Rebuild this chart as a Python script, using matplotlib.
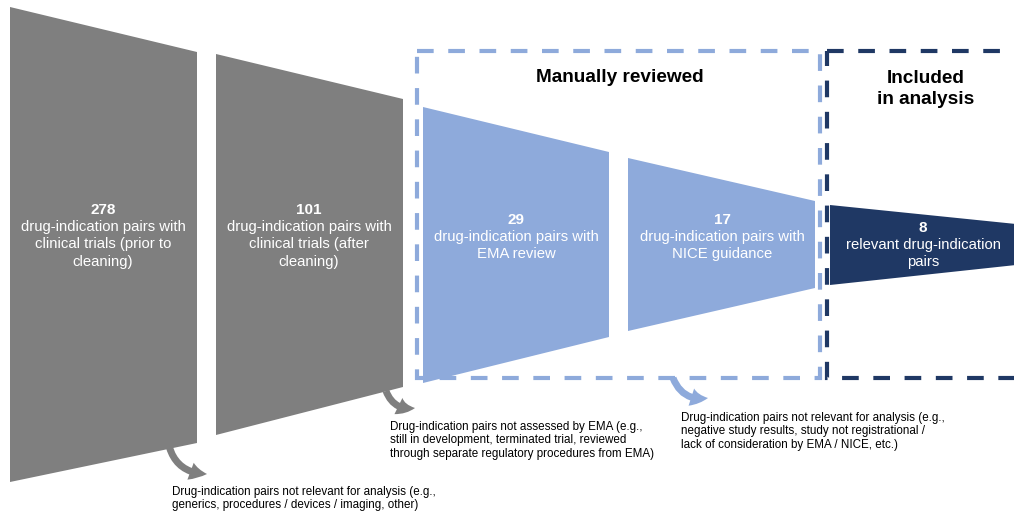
import matplotlib
matplotlib.use("Agg")
import matplotlib.pyplot as plt
from matplotlib.patches import Polygon, Rectangle, FancyArrowPatch

plt.rcParams['font.family'] = ['Liberation Sans', 'DejaVu Sans']

# stage counts and descriptions
counts = [278, 101, 29, 17, 8]
descriptions = [
    "drug-indication pairs with\nclinical trials (prior to\ncleaning)",
    "drug-indication pairs with\nclinical trials (after\ncleaning)",
    "drug-indication pairs with\nEMA review",
    "drug-indication pairs with\nNICE guidance",
    "relevant drug-indication\npairs",
]
exclusion_notes = [
    "Drug-indication pairs not relevant for analysis (e.g.,\n"
    "generics, procedures / devices / imaging, other)",
    "Drug-indication pairs not assessed by EMA (e.g.,\n"
    "still in development, terminated trial, reviewed\n"
    "through separate regulatory procedures from EMA)",
    "Drug-indication pairs not relevant for analysis (e.g.,\n"
    "negative study results, study not registrational /\n"
    "lack of consideration by EMA / NICE, etc.)",
]
group_titles = ["Manually reviewed", "Included\nin analysis"]

GRAY = "#7f7f7f"
LIGHT = "#8eaadb"
NAVY = "#1f3864"

# layout (pixel space): x_left, x_right, top_left, bot_left, top_right, bot_right
shapes = [
    (10, 197, 7, 482, 52, 443),
    (216, 403, 54, 435, 99, 387),
    (423, 609, 107, 383, 152, 337),
    (628, 815, 158, 331, 201, 288),
    (830, 1016, 205, 285, 224, 265),
]
shape_colors = [GRAY, GRAY, LIGHT, LIGHT, NAVY]
text_pos = [(103, 210), (309, 210), (516, 220), (722, 220), (923, 228)]

fig = plt.figure(figsize=(10.14, 5.17), dpi=100)
ax = fig.add_axes([0, 0, 1, 1])
ax.set_xlim(0, 1014)
ax.set_ylim(517, 0)
ax.axis("off")

for (xl, xr, tl, bl, tr, br), c in zip(shapes, shape_colors):
    ax.add_patch(Polygon([(xl, tl), (xr, tr), (xr, br), (xl, bl)],
                         closed=True, facecolor=c, edgecolor="none", zorder=2))

for (x, y), n, d in zip(text_pos, counts, descriptions):
    ax.text(x, y, str(n), color="white", fontsize=11, fontweight="bold",
            ha="center", va="center", zorder=5)
    ax.text(x, y + 10, d, color="white", fontsize=10.7, ha="center", va="top",
            linespacing=1.3, zorder=5)

# dashed group boxes
ax.add_patch(Rectangle((417, 51), 403, 327, fill=False, edgecolor=LIGHT,
                       lw=3, ls=(0, (4, 3.5)), zorder=3))
ax.add_patch(Rectangle((827, 51), 200, 327, fill=False, edgecolor=NAVY,
                       lw=3, ls=(0, (4, 3.5)), zorder=3))
ax.text(620, 78, group_titles[0], fontsize=13.7, fontweight="bold",
        ha="center", va="center")
ax.text(926, 89, group_titles[1], fontsize=13.7, fontweight="bold",
        ha="center", va="center", linespacing=1.3)

# exclusion arrows
arrows = [((168, 442), (207, 474), GRAY),
          ((386, 391), (415, 408), GRAY),
          ((673, 378), (708, 398), LIGHT)]
for (p0, p1, c) in arrows:
    ax.add_patch(FancyArrowPatch(p0, p1, connectionstyle="arc3,rad=0.4",
                                 arrowstyle="simple,head_width=13,head_length=12,tail_width=5",
                                 color=c, lw=0, shrinkA=0, shrinkB=0, zorder=4))

note_pos = [(172, 486), (390, 421), (681, 412)]
for (x, y), t in zip(note_pos, exclusion_notes):
    ax.text(x, y, t, fontsize=8.4, ha="left", va="top", linespacing=1.15)

fig.savefig("out.png", dpi=100)
